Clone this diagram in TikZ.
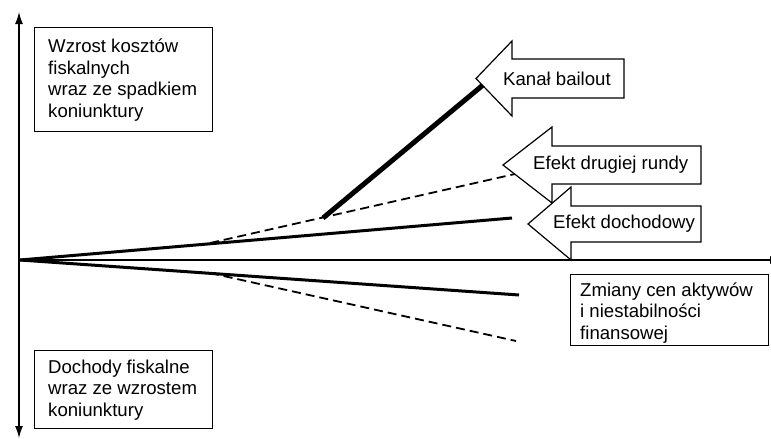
\documentclass[tikz,border=0pt]{standalone}
\usepackage{fontspec}
\setmainfont{Liberation Sans}
\usetikzlibrary{arrows.meta}
\begin{document}
\begin{tikzpicture}[x=1pt,y=-1pt,
  lbl/.style={font=\fontsize{18.6}{21.5}\selectfont, inner sep=0pt, anchor=west, align=left},
  box/.style={draw, line width=1.2pt, fill=white, inner sep=0pt, anchor=north west},
  fatarrow/.style={draw, line width=1.2pt, fill=white, line join=miter},
  axis/.style={line width=1.3pt},
  tip/.style={Latex[length=12pt,width=8pt]},
  solidline/.style={line width=3pt},
  dashline/.style={line width=1.8pt, dash pattern=on 9pt off 5pt},
  thickline/.style={line width=5pt}
]
\useasboundingbox (0,0) rectangle (771,439);

% axes
\coordinate (Ytop) at (19,12);
\coordinate (Ybot) at (19,438);
\coordinate (Xl) at (19,260);
\coordinate (Xr) at (782,260);
\draw[axis,{Latex[length=12pt,width=8pt]}-{Latex[length=12pt,width=8pt]}] (Ybot) -- (Ytop);
\draw[axis,-{Latex[length=12pt,width=8pt]}] (Xl) -- (Xr);

% lines
\coordinate (O) at (20,260);
\coordinate (I1) at (512,218);
\coordinate (D1s) at (210,243);
\coordinate (D1e) at (515,174);
\coordinate (B1) at (323,218);
\coordinate (B2) at (483,85);
\coordinate (L1) at (519,295);
\coordinate (D2s) at (210,273);
\coordinate (D2e) at (516,341);

\draw[dashline] (D1s) -- (D1e);
\draw[dashline] (D2s) -- (D2e);
\draw[solidline] (O) -- (I1);
\draw[solidline] (O) -- (L1);
\draw[thickline] (B1) -- (B2);

% boxes
\node[box, minimum width=178pt, minimum height=104pt] (up) at (34,27) {};
\node[lbl] (uptxt) at (48,80) {Wzrost kosztów\\fiskalnych\\wraz ze spadkiem\\koniunktury};
\node[box, minimum width=178pt, minimum height=78pt] (down) at (34,350) {};
\node[lbl] (downtxt) at (48,390) {Dochody fiskalne\\wraz ze wzrostem\\koniunktury};
\node[box, minimum width=198pt, minimum height=71pt] (zm) at (570,274) {};
\node[lbl] (zmtxt) at (580,313) {Zmiany cen aktywów\\i niestabilności\\finansowej};

% fat arrows
\draw[fatarrow] (476,78.5) -- (512,41) -- (512,59) -- (624,59) -- (624,98) -- (512,98) -- (512,116) -- cycle;
\node[lbl] (kb) at (503,78.5) {Kanał bailout};

\draw[fatarrow] (503,165) -- (552,127) -- (552,146) -- (701,146) -- (701,184) -- (552,184) -- (552,203) -- cycle;
\node[lbl] (edr) at (533,165) {Efekt drugiej rundy};

\draw[fatarrow] (528,224) -- (571,187) -- (571,206) -- (701,206) -- (701,242) -- (571,242) -- (571,260) -- cycle;
\node[lbl] (edo) at (553,224) {Efekt dochodowy};
\end{tikzpicture}
\end{document}
